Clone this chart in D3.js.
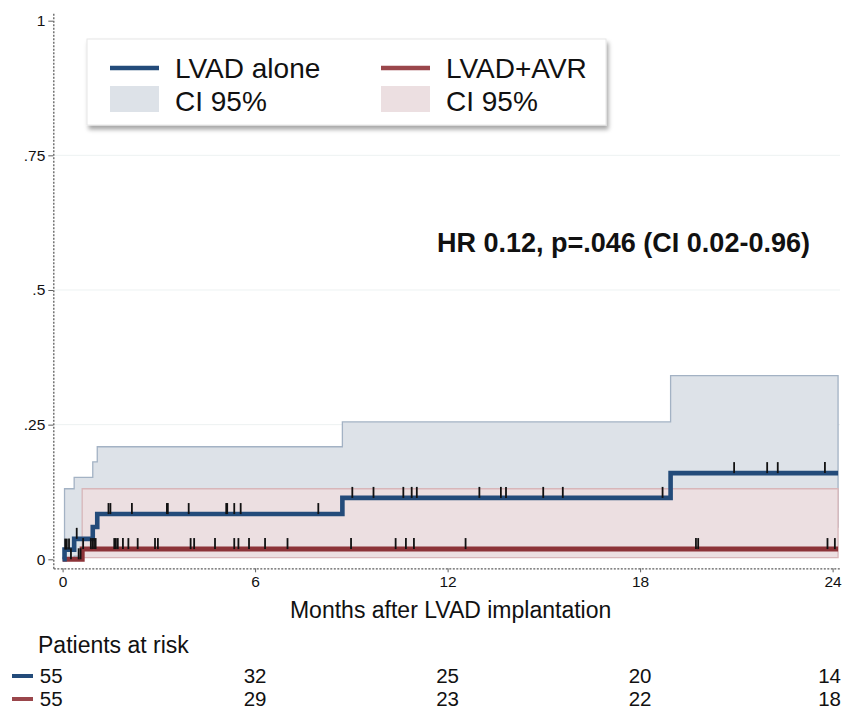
<!DOCTYPE html>
<html>
<head>
<meta charset="utf-8">
<script src="https://cdn.jsdelivr.net/npm/d3@7"></script>
<style>
  html, body { margin: 0; padding: 0; background: #fff; }
  svg { display: block; font-family: "Liberation Sans", Arial, Helvetica, sans-serif; }
</style>
</head>
<body>
<svg id="chart" width="843" height="711"></svg>
<script>
// ---------------- data ----------------
const xTicks = [0, 6, 12, 18, 24];
const xTickLabels = ["0", "6", "12", "18", "24"];
const yTicks = [0, 0.25, 0.5, 0.75, 1];
const yTickLabels = ["0", ".25", ".5", ".75", "1"];
const endTime = 24.17;

// LVAD alone (cumulative failure, step times)
const blueTime  = [0, 0.06, 0.36, 0.94, 1.08, 8.72, 18.95];
const blueFail  = [0, 0.018, 0.038, 0.060, 0.084, 0.114, 0.160];
const blueUpper = [0, 0.131, 0.152, 0.181, 0.209, 0.255, 0.341];
const blueLower = [0, 0.003, 0.006, 0.012, 0.022, 0.036, 0.060];
const blueCensor = [0.08, 0.13, 0.20, 0.44, 1.43, 1.49, 2.16, 3.25, 3.28, 3.93, 5.10, 5.13, 5.35, 5.55, 7.97,
  9.03, 9.69, 10.62, 10.88, 11.04, 12.99, 13.66, 13.82, 14.98, 15.59, 18.70, 20.93, 21.96, 22.29, 23.76];

// LVAD+AVR
const redTime  = [0, 0.61];
const redFail  = [0, 0.019];
const redUpper = [0, 0.131];
const redLower = [0, 0.003];
const redCensor = [0.26, 0.50, 0.56, 0.64, 0.88, 0.93, 0.98, 1.03, 1.61, 1.66, 1.72, 1.88, 2.05, 2.34, 2.88, 2.97,
  3.99, 4.10, 4.75, 5.35, 5.48, 5.81, 6.31, 7.01, 8.99, 10.38, 10.70, 10.95, 12.56, 19.74, 19.81, 23.84, 24.07];

const riskTitle = "Patients at risk";
const riskBlue = [55, 32, 25, 20, 14];
const riskRed  = [55, 29, 23, 22, 18];

const seriesNames = ["LVAD alone", "LVAD+AVR"];
const ciLabel = "CI 95%";
const xTitle = "Months after LVAD implantation";
const hrText = "HR 0.12, p=.046 (CI 0.02-0.96)";

// ---------------- styles ----------------
const C = {
  blue: "#234b7a", red: "#8c3338",
  blueFill: "#dde2e8", blueEdge: "#a3b2c4",
  redFill: "#ecdfe1", redEdge: "#d8b6b9",
  axis: "#5e5e5e", grid: "#edf2f2", text: "#111"
};

const svg = d3.select("#chart");
const x = d3.scaleLinear().domain([-0.29, 24.23]).range([53.3, 840]);
const y = d3.scaleLinear().domain([-0.0167, 1.0137]).range([568.3, 13.3]);

// gridlines
svg.append("g").selectAll("line").data(yTicks.filter(v => v > 0 && v < 1)).join("line")
  .attr("x1", x.range()[0]).attr("x2", x.range()[1])
  .attr("y1", d => y(d)).attr("y2", d => y(d))
  .attr("stroke", C.grid).attr("stroke-width", 1);

function stepPoints(times, vals, from) {
  const pts = [];
  for (let i = from; i < times.length; i++) pts.push([times[i], vals[i]]);
  pts.push([endTime, vals[vals.length - 1]]);
  return pts;
}
function bandPoints(times, lo, hi) {
  const pts = [];
  for (let i = 1; i < times.length; i++) pts.push({t: times[i], lo: lo[i], hi: hi[i]});
  pts.push({t: endTime, lo: lo[lo.length - 1], hi: hi[hi.length - 1]});
  return pts;
}
const area = d3.area().curve(d3.curveStepAfter)
  .x(d => x(d.t)).y0(d => y(d.lo)).y1(d => y(d.hi));
const line = d3.line().curve(d3.curveStepAfter).x(d => x(d[0])).y(d => y(d[1]));

// CI bands
svg.append("path").datum(bandPoints(blueTime, blueLower, blueUpper))
  .attr("d", area).attr("fill", C.blueFill).attr("stroke", C.blueEdge).attr("stroke-width", 1.3);
svg.append("path").datum(bandPoints(redTime, redLower, redUpper))
  .attr("d", area).attr("fill", C.redFill).attr("stroke", C.redEdge).attr("stroke-width", 1.3);

// survival lines
svg.append("path").datum(stepPoints(redTime, redFail, 0))
  .attr("d", line).attr("fill", "none").attr("stroke", C.red).attr("stroke-width", 5);
svg.append("path").datum(stepPoints(blueTime, blueFail, 0))
  .attr("d", line).attr("fill", "none").attr("stroke", C.blue).attr("stroke-width", 4.6);

// censor ticks
function levelAt(times, vals, t) { return vals[d3.bisectRight(times, t) - 1]; }
function drawCensor(list, times, vals) {
  svg.append("g").selectAll("line").data(list).join("line")
    .attr("x1", d => x(d)).attr("x2", d => x(d))
    .attr("y1", d => y(levelAt(times, vals, d)) - 11)
    .attr("y2", d => y(levelAt(times, vals, d)))
    .attr("stroke", "#111").attr("stroke-width", 1.8);
}
drawCensor(redCensor, redTime, redFail);
drawCensor(blueCensor, blueTime, blueFail);

// axes
const yAxis = d3.axisLeft(y).tickValues(yTicks).tickSize(5).tickSizeOuter(0).tickPadding(3)
  .tickFormat((d, i) => yTickLabels[i]);
const gy = svg.append("g").attr("transform", `translate(${x.range()[0]},0)`).call(yAxis);
const xAxis = d3.axisBottom(x).tickValues(xTicks).tickSize(4).tickSizeOuter(0).tickPadding(4)
  .tickFormat((d, i) => xTickLabels[i]);
const gx = svg.append("g").attr("transform", `translate(0,${y.range()[0]})`).call(xAxis);
[gx, gy].forEach(g => {
  g.select(".domain").attr("stroke", C.axis).attr("stroke-width", 1.3).attr("stroke-dasharray", "2,1.5");
  g.selectAll(".tick line").attr("stroke", C.axis).attr("stroke-width", 1);
  g.selectAll(".tick text").attr("fill", C.text).attr("font-size", 15.5)
    .attr("font-family", "'Liberation Sans', Arial, sans-serif");
});

// axis title
svg.append("text").attr("x", x(12) + 3).attr("y", 618).attr("text-anchor", "middle")
  .attr("font-size", 23).attr("fill", C.text).text(xTitle);

// HR annotation
svg.append("text").attr("x", 437).attr("y", 252).attr("font-size", 27).attr("font-weight", "bold")
  .attr("fill", C.text).text(hrText);

// legend
const defs = svg.append("defs");
const f = defs.append("filter").attr("id", "shadow").attr("x", "-10%").attr("y", "-20%").attr("width", "120%").attr("height", "150%");
f.append("feDropShadow").attr("dx", 2).attr("dy", 4).attr("stdDeviation", 2)
  .attr("flood-color", "#000").attr("flood-opacity", 0.35);
const lg = svg.append("g");
lg.append("rect").attr("x", 87).attr("y", 39).attr("width", 519).attr("height", 86)
  .attr("fill", "#fff").attr("stroke", "#e6e6e6").attr("filter", "url(#shadow)");
const legendItems = [
  {name: seriesNames[0], col: C.blue, fill: C.blueFill, x0: 110},
  {name: seriesNames[1], col: "#9a464b", fill: C.redFill, x0: 381}
];
legendItems.forEach(it => {
  lg.append("line").attr("x1", it.x0).attr("x2", it.x0 + 49).attr("y1", 68).attr("y2", 68)
    .attr("stroke", it.col).attr("stroke-width", 4.5);
  lg.append("rect").attr("x", it.x0).attr("y", 86).attr("width", 49).attr("height", 26).attr("fill", it.fill);
  lg.append("text").attr("x", it.x0 + 65).attr("y", 78).attr("font-size", 28).attr("fill", C.text).text(it.name);
  lg.append("text").attr("x", it.x0 + 65).attr("y", 111).attr("font-size", 28).attr("fill", C.text).text(ciLabel);
});

// risk table
svg.append("text").attr("x", 38).attr("y", 653).attr("font-size", 23).attr("fill", C.text).text(riskTitle);
const rows = [{vals: riskBlue, col: C.blue, y: 683}, {vals: riskRed, col: "#9a464b", y: 706}];
rows.forEach(r => {
  svg.append("line").attr("x1", 12).attr("x2", 33).attr("y1", r.y - 7).attr("y2", r.y - 7)
    .attr("stroke", r.col).attr("stroke-width", 4);
  svg.append("g").selectAll("text").data(r.vals).join("text")
    .attr("x", (d, i) => i === 0 ? x(xTicks[0]) : (i === xTicks.length - 1 ? 841 : x(xTicks[i])))
    .attr("y", r.y)
    .attr("text-anchor", (d, i) => (i === 0 || i === xTicks.length - 1) ? "end" : "middle")
    .attr("font-size", 20.5).attr("fill", C.text).text(d => d);
});
</script>
</body>
</html>
